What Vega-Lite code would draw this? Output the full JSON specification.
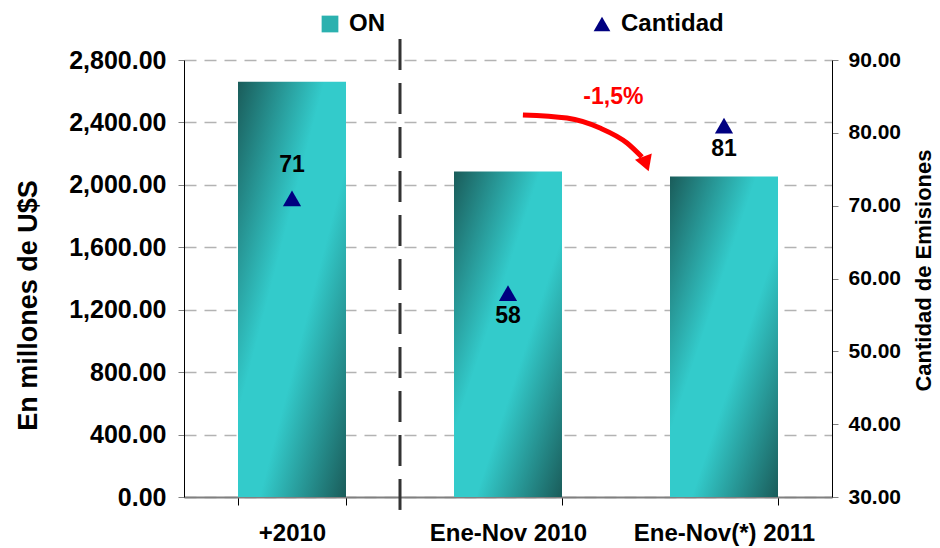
{
  "$schema": "https://vega.github.io/schema/vega-lite/v6.json",
  "width": 648,
  "height": 437,
  "autosize": {"type": "none"},
  "padding": {"left": 184, "top": 60, "right": 108, "bottom": 51},
  "background": "white",
  "config": {
    "view": {"stroke": null},
    "font": "Liberation Sans",
    "legend": {
      "labelFont": "Liberation Sans",
      "labelFontSize": 24,
      "labelFontWeight": "bold",
      "labelColor": "black",
      "symbolSize": 280,
      "labelOffset": 7,
      "columnPadding": 205,
      "padding": 0,
      "symbolStrokeWidth": 0
    }
  },
  "datasets": {
    "barras": [
      {"periodo": "+2010", "monto": 2660},
      {"periodo": "Ene-Nov 2010", "monto": 2085},
      {"periodo": "Ene-Nov(*) 2011", "monto": 2054}
    ],
    "emisiones": [
      {"periodo": "+2010", "cantidad": 71, "serie": "Cantidad"},
      {"periodo": "Ene-Nov 2010", "cantidad": 58, "serie": "Cantidad"},
      {"periodo": "Ene-Nov(*) 2011", "cantidad": 81, "serie": "Cantidad"}
    ],
    "separador": [
      {"pos": 1, "desde": 2935, "hasta": -90}
    ],
    "flecha": [
      {"pos": 1.569, "monto": 2448},
      {"pos": 1.773, "monto": 2428},
      {"pos": 1.926, "monto": 2364},
      {"pos": 2.051, "monto": 2268},
      {"pos": 2.12, "monto": 2178}
    ],
    "punta": [
      {"pos": 2.139, "monto": 2134}
    ],
    "nota": [
      {"pos": 1.988, "monto": 2563, "texto": "-1,5%"}
    ]
  },
  "layer": [
    {
      "layer": [
        {
          "data": {"name": "barras"},
          "mark": {
            "type": "bar",
            "color": {
              "gradient": "linear",
              "x1": 0, "y1": 0, "x2": 1, "y2": 1,
              "stops": [
                {"offset": 0, "color": "#1a5c5a"},
                {"offset": 0.4, "color": "#33cbcb"},
                {"offset": 0.6, "color": "#33cbcb"},
                {"offset": 1, "color": "#1a5c5a"}
              ]
            }
          },
          "encoding": {
            "x": {
              "field": "periodo",
              "type": "nominal",
              "sort": null,
              "scale": {"domain": ["+2010", "Ene-Nov 2010", "Ene-Nov(*) 2011"], "paddingInner": 0.5, "paddingOuter": 0.25},
              "axis": {
                "title": null,
                "labelAngle": 0,
                "labelFont": "Liberation Sans",
                "labelFontSize": 24,
                "labelFontWeight": "bold",
                "labelColor": "black",
                "labelPadding": 16,
                "labelLimit": 400,
                "tickSize": 8,
                "tickColor": "black",
                "tickBand": "extent",
                "domainColor": "#808080",
                "domainWidth": 2,
                "grid": false
              }
            },
            "y": {
              "field": "monto",
              "type": "quantitative",
              "scale": {"domain": [0, 2800], "nice": false},
              "axis": {
                "orient": "left",
                "values": [0, 400, 800, 1200, 1600, 2000, 2400, 2800],
                "format": ",.2f",
                "labelFont": "Liberation Sans",
                "labelFontSize": 25,
                "labelFontWeight": "bold",
                "labelColor": "black",
                "labelPadding": 12,
                "tickSize": 6,
                "tickColor": "#808080",
                "domainColor": "black",
                "grid": true,
                "gridColor": "#b3b3b3",
                "gridDash": [12, 8],
                "gridWidth": 1.5,
                "title": "En millones de U$S",
                "titleFont": "Liberation Sans",
                "titleFontSize": 27,
                "titleFontWeight": "bold",
                "titleColor": "black",
                "titlePadding": 26,
                "titleY": 245
              }
            }
          }
        },
        {
          "layer": [
            {
              "data": {"name": "separador"},
              "mark": {"type": "rule", "color": "#333333", "strokeWidth": 3, "strokeDash": [31, 13]},
              "encoding": {
                "x": {"field": "pos", "type": "quantitative", "scale": {"domain": [0, 3], "nice": false}, "axis": null},
                "y": {"field": "desde", "type": "quantitative"},
                "y2": {"field": "hasta"}
              }
            },
            {
              "data": {"name": "flecha"},
              "mark": {"type": "line", "color": "#ff0000", "strokeWidth": 5, "interpolate": "monotone"},
              "encoding": {
                "x": {"field": "pos", "type": "quantitative", "axis": null},
                "y": {"field": "monto", "type": "quantitative"}
              }
            },
            {
              "data": {"name": "punta"},
              "mark": {"type": "point", "shape": "triangle-down", "filled": true, "color": "#ff0000", "opacity": 1, "size": 320, "angle": 340},
              "encoding": {
                "x": {"field": "pos", "type": "quantitative", "axis": null},
                "y": {"field": "monto", "type": "quantitative"}
              }
            },
            {
              "data": {"name": "nota"},
              "mark": {"type": "text", "color": "#ff0000", "font": "Liberation Sans", "fontSize": 23, "fontWeight": "bold", "baseline": "middle", "align": "center"},
              "encoding": {
                "x": {"field": "pos", "type": "quantitative", "axis": null},
                "y": {"field": "monto", "type": "quantitative"},
                "text": {"field": "texto"}
              }
            }
          ]
        }
      ],
      "resolve": {"scale": {"x": "independent"}}
    },
    {
      "data": {"name": "emisiones"},
      "encoding": {
        "x": {
          "field": "periodo",
          "type": "nominal",
          "sort": null,
          "scale": {"domain": ["+2010", "Ene-Nov 2010", "Ene-Nov(*) 2011"], "paddingInner": 0.5, "paddingOuter": 0.25},
          "axis": null
        },
        "y": {
          "field": "cantidad",
          "type": "quantitative",
          "scale": {"domain": [30, 90], "nice": false},
          "axis": {
            "orient": "right",
            "values": [30, 40, 50, 60, 70, 80, 90],
            "format": ".2f",
            "labelFont": "Liberation Sans",
            "labelFontSize": 21,
            "labelFontWeight": "bold",
            "labelColor": "black",
            "labelPadding": 10,
            "tickSize": 6,
            "tickColor": "#808080",
            "domainColor": "black",
            "grid": false,
            "title": "Cantidad de Emisiones",
            "titleFont": "Liberation Sans",
            "titleFontSize": 22,
            "titleFontWeight": "bold",
            "titleColor": "black",
            "titleAngle": 270,
            "titleBaseline": "top",
            "titlePadding": 13,
            "titleY": 210
          }
        }
      },
      "layer": [
        {
          "mark": {"type": "point", "filled": true, "opacity": 1, "size": 330},
          "encoding": {
            "shape": {
              "field": "serie",
              "type": "nominal",
              "scale": {"domain": ["ON", "Cantidad"], "range": ["square", "triangle-up"]},
              "legend": {"title": null, "orient": "none", "legendX": 134, "legendY": -48, "direction": "horizontal"}
            },
            "color": {
              "field": "serie",
              "type": "nominal",
              "scale": {"domain": ["ON", "Cantidad"], "range": ["#2bb1af", "#000080"]},
              "legend": {"title": null, "orient": "none", "legendX": 134, "legendY": -48, "direction": "horizontal"}
            }
          }
        },
        {
          "transform": [{"filter": "datum.periodo == '+2010'"}],
          "mark": {"type": "text", "font": "Liberation Sans", "fontSize": 23, "fontWeight": "bold", "color": "black", "baseline": "middle", "dy": -33},
          "encoding": {"text": {"field": "cantidad", "type": "quantitative", "format": "d"}}
        },
        {
          "transform": [{"filter": "datum.periodo != '+2010'"}],
          "mark": {"type": "text", "font": "Liberation Sans", "fontSize": 23, "fontWeight": "bold", "color": "black", "baseline": "middle", "dy": 23},
          "encoding": {"text": {"field": "cantidad", "type": "quantitative", "format": "d"}}
        }
      ]
    }
  ],
  "resolve": {"scale": {"y": "independent"}}
}
